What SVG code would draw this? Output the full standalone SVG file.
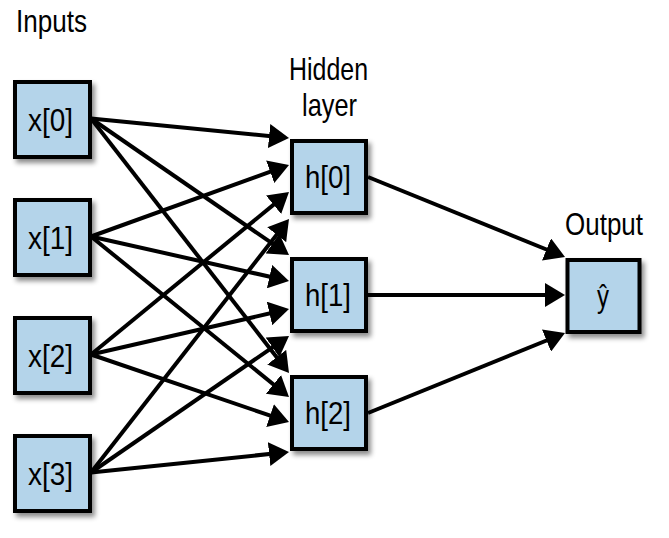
<svg xmlns="http://www.w3.org/2000/svg" width="669" height="538" viewBox="0 0 669 538">
<style>
.box{fill:#b4d4ea;stroke:#000;stroke-width:4;filter:url(#sh)}
.lbl{font-family:"Liberation Sans",Arial,sans-serif;font-size:32px;fill:#000}
.edge{stroke:#000;stroke-width:4;fill:none;marker-end:url(#ah)}
</style>
<defs>
<filter id="sh" x="-20%" y="-20%" width="150%" height="150%">
<feDropShadow dx="3" dy="4" stdDeviation="2.5" flood-color="#000" flood-opacity="0.45"/>
</filter>
<marker id="ah" markerUnits="userSpaceOnUse" viewBox="0 -12 20 24" markerWidth="20" markerHeight="24" refX="12" refY="0" orient="auto">
<path d="M0,-12 L20,0 L0,12 z" fill="#000"/>
</marker>
</defs>
<rect width="669" height="538" fill="#fff"/>
<g id="titles">
<text class="lbl" x="16" y="32" textLength="71" lengthAdjust="spacingAndGlyphs">Inputs</text>
<text class="lbl" x="289" y="80" textLength="79" lengthAdjust="spacingAndGlyphs">Hidden</text>
<text class="lbl" x="302" y="116" textLength="55" lengthAdjust="spacingAndGlyphs">layer</text>
<text class="lbl" x="565" y="235" textLength="78" lengthAdjust="spacingAndGlyphs">Output</text>
</g>
<g id="connectors">
<line class="edge" x1="91" y1="118.5" x2="281.04" y2="137.22"/>
<line class="edge" x1="91" y1="118.5" x2="282.41" y2="250.46"/>
<line class="edge" x1="91" y1="118.5" x2="284.09" y2="366.69"/>
<line class="edge" x1="91" y1="236.5" x2="281.48" y2="167.72"/>
<line class="edge" x1="91" y1="236.5" x2="281.19" y2="279.25"/>
<line class="edge" x1="91" y1="236.5" x2="282.79" y2="391.96"/>
<line class="edge" x1="91" y1="354.5" x2="282.82" y2="197.08"/>
<line class="edge" x1="91" y1="354.5" x2="281.20" y2="310.79"/>
<line class="edge" x1="91" y1="354.5" x2="281.43" y2="419.42"/>
<line class="edge" x1="91" y1="472.5" x2="284.08" y2="225.30"/>
<line class="edge" x1="91" y1="472.5" x2="282.41" y2="340.54"/>
<line class="edge" x1="91" y1="472.5" x2="281.04" y2="452.82"/>
<line class="edge" x1="368" y1="177" x2="557.59" y2="253.99"/>
<line class="edge" x1="368" y1="295" x2="557" y2="295"/>
<line class="edge" x1="368" y1="413" x2="557.59" y2="336.01"/>
</g>
<g id="x0"><rect class="box" x="15" y="82" width="75" height="75"/><text class="lbl" x="28" y="131" textLength="45" lengthAdjust="spacingAndGlyphs">x[0]</text></g>
<g id="x1"><rect class="box" x="15" y="200" width="75" height="75"/><text class="lbl" x="28" y="249" textLength="45" lengthAdjust="spacingAndGlyphs">x[1]</text></g>
<g id="x2"><rect class="box" x="15" y="318" width="75" height="75"/><text class="lbl" x="28" y="367" textLength="45" lengthAdjust="spacingAndGlyphs">x[2]</text></g>
<g id="x3"><rect class="box" x="15" y="436" width="75" height="75"/><text class="lbl" x="28" y="485" textLength="45" lengthAdjust="spacingAndGlyphs">x[3]</text></g>
<g id="h0"><rect class="box" x="292" y="141" width="74" height="72"/><text class="lbl" x="305" y="188" textLength="46" lengthAdjust="spacingAndGlyphs">h[0]</text></g>
<g id="h1"><rect class="box" x="292" y="259" width="74" height="72"/><text class="lbl" x="305" y="306" textLength="46" lengthAdjust="spacingAndGlyphs">h[1]</text></g>
<g id="h2"><rect class="box" x="292" y="377" width="74" height="72"/><text class="lbl" x="305" y="424" textLength="46" lengthAdjust="spacingAndGlyphs">h[2]</text></g>
<g id="y"><rect class="box" x="567.5" y="260" width="72" height="72"/><text class="lbl" x="597" y="307" textLength="12" lengthAdjust="spacingAndGlyphs">ŷ</text></g>
</svg>
